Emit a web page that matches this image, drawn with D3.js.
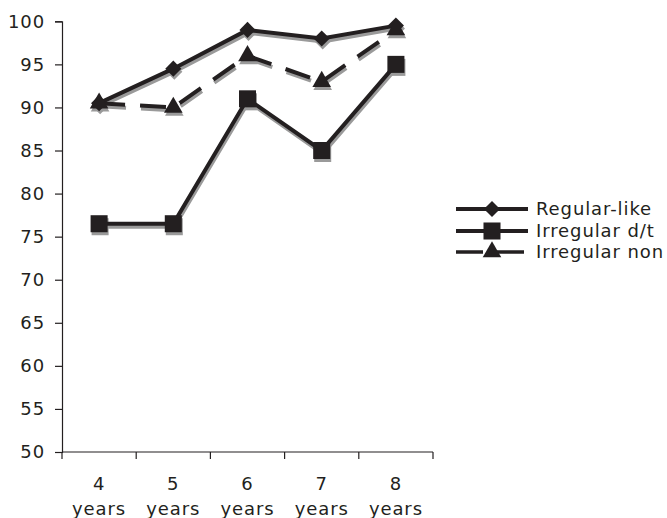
<!DOCTYPE html>
<html>
<head>
<meta charset="utf-8">
<script src="https://cdn.jsdelivr.net/npm/d3@7"></script>
<style>
  html, body { margin: 0; padding: 0; background: #fff; }
  svg { display: block; }
  text { font-family: "DejaVu Sans", Verdana, sans-serif; fill: #231f20; }
</style>
</head>
<body>
<svg id="chart" width="667" height="518"></svg>
<script>
// Categories (two-line labels) and series values
const categories = ["4 years", "5 years", "6 years", "7 years", "8 years"];
const regularLike = [90.5, 94.5, 99, 98, 99.5];
const irregularDT = [76.5, 76.5, 91, 85, 95];
const irregularNon = [90.5, 90, 96, 93, 99];
const yTicks = [50, 55, 60, 65, 70, 75, 80, 85, 90, 95, 100];

const series = [
  { name: "Regular-like", values: regularLike, symbol: d3.symbolSquare, size: 130, rotate: 45, dash: null, keyDash: null },
  { name: "Irregular d/t", values: irregularDT, symbol: d3.symbolSquare, size: 290, rotate: 0, dash: null, keyDash: null },
  { name: "Irregular non", values: irregularNon, symbol: d3.symbolTriangle, size: 150, rotate: 0, dash: "26,15", keyDash: "27,14,27,100" }
];

const ink = "#231f20";
const shadow = "#9a9a9a";
const fontSize = "18px";
const tracking = "0.9px";

const svg = d3.select("#chart");
const plot = { left: 62, right: 433, top: 21.3, bottom: 452 };

const x = d3.scaleBand().domain(categories).range([plot.left, plot.right]);
const y = d3.scaleLinear().domain([50, 100]).range([plot.bottom, plot.top]);

// Y axis
const yAxis = svg.append("g")
  .attr("transform", `translate(${plot.left},0)`)
  .call(d3.axisLeft(y).tickValues(yTicks).tickSize(7).tickPadding(10));
yAxis.select(".domain").attr("stroke", ink).attr("stroke-width", 1.2);
yAxis.selectAll(".tick line").attr("stroke", ink).attr("stroke-width", 1.2);
yAxis.selectAll(".tick text")
  .style("font-size", fontSize)
  .style("letter-spacing", tracking)
  .style("font-family", "'DejaVu Sans', Verdana, sans-serif")
  .attr("fill", ink);

// X axis: ticks at band boundaries, two-line labels at band centres
const xg = svg.append("g").attr("transform", `translate(0,${plot.bottom})`);
xg.append("line")
  .attr("x1", plot.left).attr("x2", plot.right).attr("y1", 0).attr("y2", 0)
  .attr("stroke", ink).attr("stroke-width", 1.2);
const boundaries = categories.map(c => x(c)).concat([plot.right]);
xg.selectAll("line.tick").data(boundaries).join("line")
  .attr("class", "tick")
  .attr("x1", d => d).attr("x2", d => d)
  .attr("y1", 0).attr("y2", 7)
  .attr("stroke", ink).attr("stroke-width", 1.2);
const lbl = xg.selectAll("text.cat").data(categories).join("text")
  .attr("class", "cat")
  .attr("text-anchor", "middle")
  .style("font-size", fontSize)
  .style("letter-spacing", tracking);
lbl.each(function(d) {
  const parts = d.split(" ");
  const t = d3.select(this);
  const mx = x(d) + x.bandwidth() / 2;
  t.append("tspan").attr("x", mx).attr("y", 38).text(parts[0]);
  t.append("tspan").attr("x", mx).attr("y", 63).text(parts[1]);
});

const cx = (i) => x(categories[i]) + x.bandwidth() / 2;
const line = d3.line().x((d, i) => cx(i)).y(d => y(d));

// Drop shadows first, then the series on top
const layers = [
  { color: shadow, dx: 1, dy: 3 },
  { color: ink, dx: 0, dy: 0 }
];
layers.forEach(layer => {
  const g = svg.append("g").attr("transform", `translate(${layer.dx},${layer.dy})`);
  series.forEach(s => {
    g.append("path")
      .attr("d", line(s.values))
      .attr("fill", "none")
      .attr("stroke", layer.color)
      .attr("stroke-width", 4)
      .attr("stroke-dasharray", s.dash);
    g.selectAll(null).data(s.values).join("path")
      .attr("transform", (d, i) => `translate(${cx(i)},${y(d)}) rotate(${s.rotate})`)
      .attr("d", d3.symbol().type(s.symbol).size(s.size))
      .attr("fill", layer.color);
  });
});

// Legend
const legend = svg.append("g");
const legendY = [209, 231, 252];
series.forEach((s, i) => {
  const ly = legendY[i];
  legend.append("line")
    .attr("x1", 456).attr("x2", 528).attr("y1", ly).attr("y2", ly)
    .attr("stroke", ink).attr("stroke-width", s.keyDash ? 3.5 : 4)
    .attr("stroke-dasharray", s.keyDash);
  legend.append("path")
    .attr("transform", `translate(492,${ly}) rotate(${s.rotate})`)
    .attr("d", d3.symbol().type(s.symbol).size(s.size))
    .attr("fill", ink);
  legend.append("text")
    .attr("x", 536).attr("y", ly)
    .attr("dy", "0.35em")
    .style("font-size", fontSize)
    .style("letter-spacing", tracking)
    .text(s.name);
});
</script>
</body>
</html>
